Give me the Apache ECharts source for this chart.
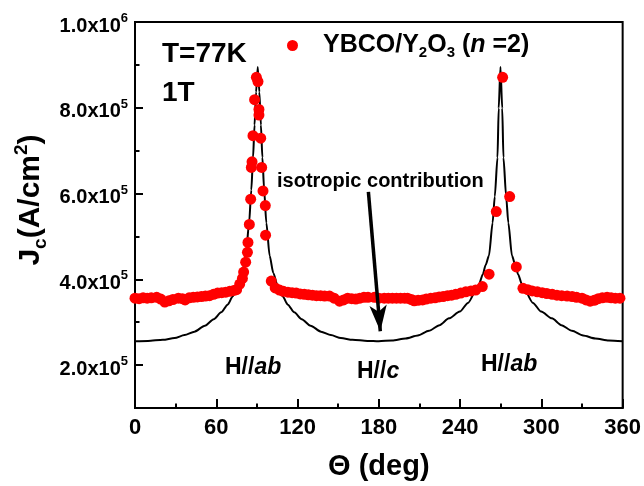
<!DOCTYPE html>
<html>
<head>
<meta charset="utf-8">
<script src="https://cdn.jsdelivr.net/npm/echarts@6/dist/echarts.min.js"></script>
<style>
  html, body { margin: 0; padding: 0; background: #fff; }
  #chart { width: 644px; height: 486px; }
</style>
</head>
<body>
<div id="chart"></div>
<script>
// Measured critical current density, Jc in units of 1e5 A/cm^2, vs field angle (deg)
const dotTheta = [0, 3, 6, 9, 12, 16, 19, 22, 25, 28, 32, 35, 37, 40, 43, 46, 49, 52, 55, 58,
  61, 64, 67, 70, 73, 75, 77.3, 79.3, 80.2, 81.7, 83.0, 83.4, 84.4, 85.4, 85.9, 86.4, 87.1, 88.3,
  89.6, 90.8, 91.5, 91.5, 92.8, 93.5, 94.5, 96.2, 96.4, 100.6, 103.5, 106.7, 109.5, 112.9, 116,
  119, 122, 125, 128, 131, 134, 137, 140, 143.6, 147, 151, 154, 157, 160, 163, 166, 169, 172,
  176.7, 180, 184, 187, 190, 193, 196, 199, 201.2, 204, 206.1, 209, 212.3, 215, 218.4, 221.5,
  224.5, 227.5, 230.7, 233.7, 236.8, 240.5, 244.2, 248, 251.5, 256.4, 261.4, 266.7, 271.4,
  276.6, 281.5, 286.4, 290, 293.2, 297, 300.6, 304, 308, 311.5, 315, 319, 322.7, 326, 330,
  333, 336, 339, 342, 345, 348.5, 351.5, 354.6, 358];
const dotJc = [3.56, 3.55, 3.57, 3.56, 3.57, 3.58, 3.54, 3.47, 3.50, 3.53, 3.56, 3.55, 3.52, 3.57,
  3.58, 3.59, 3.60, 3.61, 3.62, 3.65, 3.68, 3.69, 3.70, 3.72, 3.74, 3.76, 3.89, 4.02, 4.17, 4.40,
  4.63, 4.86, 5.28, 5.87, 6.61, 6.74, 7.35, 8.19, 8.71, 8.61, 7.96, 7.83, 7.29, 6.61, 6.06, 5.72,
  5.03, 3.96, 3.80, 3.75, 3.72, 3.70, 3.69, 3.68, 3.66, 3.65, 3.64, 3.63, 3.62, 3.62, 3.61, 3.61,
  3.56, 3.49, 3.52, 3.56, 3.55, 3.54, 3.56, 3.58, 3.58, 3.58, 3.56, 3.56, 3.56, 3.56, 3.56, 3.56,
  3.56, 3.56, 3.53, 3.50, 3.51, 3.52, 3.54, 3.56, 3.57, 3.59, 3.60, 3.62, 3.63, 3.65, 3.68, 3.71,
  3.73, 3.75, 3.83, 4.12, 5.58, 8.71, 5.93, 4.29, 3.79, 3.76, 3.73, 3.71, 3.69, 3.67, 3.65, 3.63,
  3.62, 3.61, 3.60, 3.58, 3.56, 3.52, 3.49, 3.51, 3.55, 3.57, 3.58, 3.57, 3.56, 3.56];

// Isotropic contribution curve (same units)
const curveTheta = [0, 9.6, 20.6, 29.2, 36.6, 43.9, 51.6, 58.1, 63.6, 68.4, 72.1, 76.1, 79.1, 81.8,
  84.25, 85.85, 87.15, 88.25, 89.4, 90.6, 91.8, 92.95, 94.05, 95.35, 96.95, 99.4, 102.1, 105.1,
  109.1, 112.8, 117.6, 123.1, 129.6, 137.3, 144.6, 152, 160.6, 171.6, 180, 189.8, 199.8, 208.8,
  217, 224.8, 231.8, 239.8, 245.8, 253.8, 256.8, 258.8, 261.3, 264, 265.6, 267.6, 268.5, 269.8,
  271.1, 272, 274, 275.6, 278.3, 280.8, 282.8, 285.8, 293.8, 299.8, 307.8, 314.8, 322.6, 330.8,
  339.8, 349.8, 360];
const curveJc = [2.556, 2.565, 2.59, 2.63, 2.70, 2.78, 2.92, 3.07, 3.23, 3.41, 3.60, 3.87, 4.15,
  4.55, 5.32, 6.08, 6.84, 7.60, 8.37, 8.95, 8.37, 7.60, 6.84, 6.08, 5.32, 4.55, 4.15, 3.87, 3.60,
  3.41, 3.23, 3.07, 2.92, 2.78, 2.70, 2.63, 2.59, 2.565, 2.556, 2.575, 2.62, 2.69, 2.80, 2.93,
  3.09, 3.25, 3.45, 3.87, 4.12, 4.33, 4.55, 5.32, 5.93, 6.84, 7.99, 8.95, 7.99, 6.84, 5.93, 5.32,
  4.55, 4.33, 4.12, 3.87, 3.45, 3.25, 3.09, 2.93, 2.80, 2.69, 2.62, 2.575, 2.556];

// Axis ticks
const yLabelTicks = [2, 4, 6, 8, 10];
const yMinorTicks = [3, 5, 7, 9];
const seriesName = 'YBCO/Y2O3 (n=2)';

const FONT = '"Liberation Sans", Arial, Helvetica, sans-serif';
const bold = (size, extra) => Object.assign({ fontFamily: FONT, fontWeight: 'bold', fontSize: size, color: '#000' }, extra || {});

const chart = echarts.init(document.getElementById('chart'), null, { renderer: 'canvas' });

const option = {
  animation: false,
  backgroundColor: '#fff',
  grid: { left: 135, top: 22, right: 20, bottom: 71, show: true, borderColor: '#000', borderWidth: 2, backgroundColor: 'transparent' },
  legend: {
    data: [seriesName],
    left: 287, top: 25, padding: 0,
    icon: 'circle', itemWidth: 11, itemHeight: 11,
    itemStyle: { opacity: 1 },
    formatter: () => '{p|}{m|YBCO/Y}{s|2}{m|O}{s|3}{m| (}{i|n}{m| =2)}',
    textStyle: {
      rich: {
        p: { width: 20 },
        m: bold(25, { lineHeight: 30, padding: [8, 0, 8, 0], verticalAlign: 'middle' }),
        i: bold(25, { fontStyle: 'italic', lineHeight: 30, padding: [8, 0, 8, 0], verticalAlign: 'middle' }),
        s: bold(15, { lineHeight: 15, verticalAlign: 'bottom' })
      }
    }
  },
  xAxis: {
    type: 'value', min: 0, max: 360, interval: 60,
    axisLine: { lineStyle: { color: '#000', width: 2 } },
    axisTick: { inside: true, length: 9, lineStyle: { color: '#000', width: 2 } },
    minorTick: { show: true, splitNumber: 2, length: 4.5, lineStyle: { color: '#000', width: 2 } },
    splitLine: { show: false },
    axisLabel: bold(22, { margin: 9 }),
    name: 'Θ (deg)', nameLocation: 'middle', nameGap: 44,
    nameTextStyle: bold(29)
  },
  yAxis: [
    {
      type: 'value', min: 1, max: 10, position: 'left',
      axisLine: { lineStyle: { color: '#000', width: 2 } },
      axisTick: { inside: true, length: 8, customValues: yLabelTicks, lineStyle: { color: '#000', width: 2 } },
      splitLine: { show: false },
      axisLabel: {
        customValues: yLabelTicks,
        margin: 7,
        padding: [8, 0, 0, 0],
        formatter: v => v === 10 ? '{m|1.0x10}{s|6}' : '{m|' + v.toFixed(1) + 'x10}{s|5}',
        rich: {
          m: bold(20, { lineHeight: 28, verticalAlign: 'middle' }),
          s: bold(13, { lineHeight: 12, verticalAlign: 'top' })
        }
      }
    },
    {
      type: 'value', min: 1, max: 10, position: 'left',
      axisLine: { show: false },
      axisTick: { inside: true, length: 4.5, customValues: yMinorTicks, lineStyle: { color: '#000', width: 2 } },
      axisLabel: { show: false },
      splitLine: { show: false }
    }
  ],
  series: [
    {
      name: 'isotropic',
      type: 'line',
      data: curveTheta.map((t, i) => [t, curveJc[i]]),
      showSymbol: false,
      symbol: 'none',
      smooth: 0.25,
      smoothMonotone: 'x',
      lineStyle: { color: '#000', width: 2 },
      z: 2,
      silent: true,
      markLine: {
        silent: true,
        symbol: ['none', 'arrow'],
        symbolSize: [13, 26],
        label: { show: false },
        lineStyle: { color: '#000', width: 3.5, type: 'solid' },
        data: [[{ coord: [172.3, 6.04] }, { coord: [181.1, 2.79] }]]
      }
    },
    {
      name: seriesName,
      type: 'scatter',
      data: dotTheta.map((t, i) => [t, dotJc[i]]),
      symbol: 'circle',
      symbolSize: 11,
      itemStyle: { color: '#ff0000', opacity: 1 },
      z: 3
    }
  ],
  graphic: [
    { type: 'text', x: 162, y: 54, style: { text: 'T=77K', font: 'bold 28px ' + FONT, fill: '#000', textVerticalAlign: 'middle' } },
    { type: 'text', x: 162, y: 93, style: { text: '1T', font: 'bold 28px ' + FONT, fill: '#000', textVerticalAlign: 'middle' } },
    { type: 'text', x: 277, y: 181, style: { text: 'isotropic contribution', font: 'bold 20px ' + FONT, fill: '#000', textVerticalAlign: 'middle' } },
    {
      type: 'text', x: 31, y: 200, rotation: Math.PI / 2,
      style: {
        text: '{m|J}{b|c}{m|(A/cm}{t|2}{m|)}',
        align: 'center', verticalAlign: 'middle',
        rich: {
          m: bold(30, { lineHeight: 38, verticalAlign: 'middle' }),
          b: bold(19, { lineHeight: 19, verticalAlign: 'bottom' }),
          t: bold(19, { lineHeight: 19, verticalAlign: 'top' })
        }
      }
    },
    {
      type: 'text', x: 225, y: 368,
      style: {
        text: '{m|H//}{i|ab}', verticalAlign: 'middle',
        rich: { m: bold(23), i: bold(23, { fontStyle: 'italic' }) }
      }
    },
    {
      type: 'text', x: 357, y: 372,
      style: {
        text: '{m|H//}{i|c}', verticalAlign: 'middle',
        rich: { m: bold(23), i: bold(23, { fontStyle: 'italic' }) }
      }
    },
    {
      type: 'text', x: 481, y: 365,
      style: {
        text: '{m|H//}{i|ab}', verticalAlign: 'middle',
        rich: { m: bold(23), i: bold(23, { fontStyle: 'italic' }) }
      }
    }
  ]
};

chart.setOption(option);
</script>
</body>
</html>
